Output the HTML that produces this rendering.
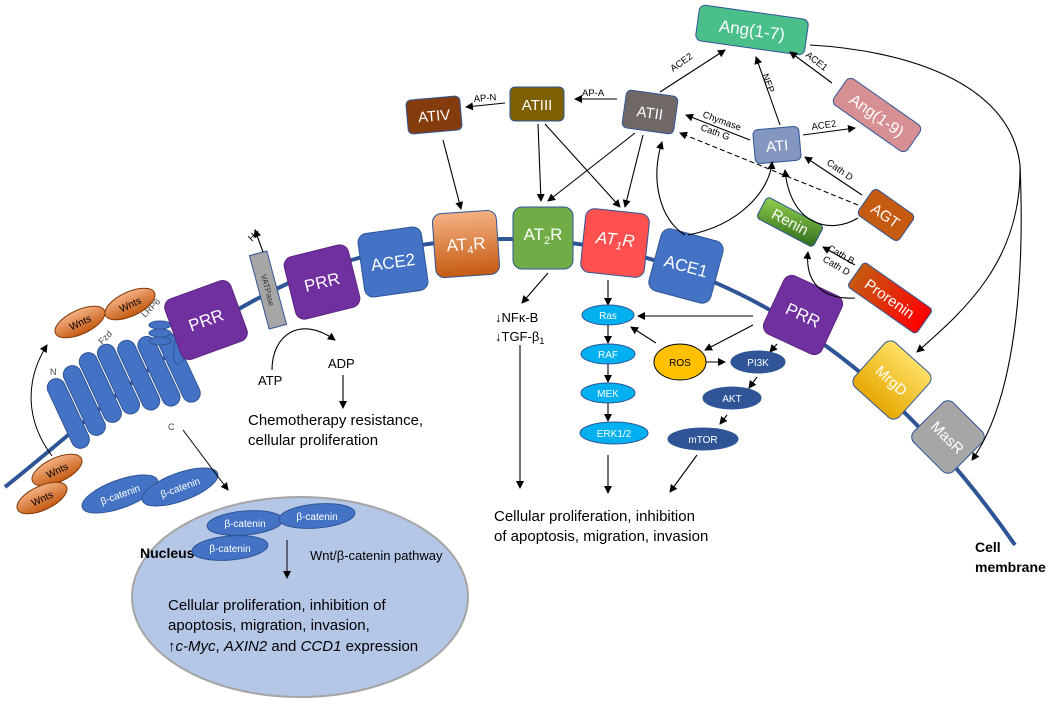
<!DOCTYPE html>
<html><head><meta charset="utf-8"><style>
html,body{margin:0;padding:0;background:#fff}
svg{display:block}
text{font-family:"Liberation Sans",sans-serif}
</style></head><body>
<svg width="1052" height="707" viewBox="0 0 1052 707" xmlns="http://www.w3.org/2000/svg">
<defs>
<marker id="a" markerWidth="8" markerHeight="8" refX="7" refY="4" orient="auto" markerUnits="userSpaceOnUse"><path d="M0,0 L8,4 L0,8 z" fill="#000"/></marker>
<linearGradient id="or" x1="0" y1="0" x2="0" y2="1"><stop offset="0" stop-color="#f4b183"/><stop offset="1" stop-color="#c55a11"/></linearGradient>
<linearGradient id="rn" x1="0" y1="0" x2="1" y2="1"><stop offset="0" stop-color="#92d050"/><stop offset="1" stop-color="#2e6b1a"/></linearGradient>
<linearGradient id="pr" x1="0" y1="0" x2="1" y2="0"><stop offset="0" stop-color="#c55a11"/><stop offset="1" stop-color="#ff0000"/></linearGradient>
<linearGradient id="mg" x1="0" y1="0" x2="0" y2="1"><stop offset="0" stop-color="#ffe066"/><stop offset="1" stop-color="#e6a800"/></linearGradient>
</defs>
<path d="M5,487 C90,420 180,330 300,278 C420,228 560,230 660,262 C780,300 900,380 1015,545" fill="none" stroke="#2f5597" stroke-width="4"/>
<ellipse cx="300" cy="597" rx="168" ry="100" fill="#b4c7e7" stroke="#a5a5a5" stroke-width="2"/>
<text x="140" y="558" font-size="14" font-weight="bold">Nucleus</text>
<text x="310" y="560" font-size="13">Wnt/β-catenin pathway</text>
<text x="168" y="610" font-size="15">Cellular proliferation, inhibition of</text>
<text x="168" y="630" font-size="15">apoptosis, migration, invasion,</text>
<text x="168" y="651" font-size="15">↑<tspan font-style="italic">c-Myc</tspan>, <tspan font-style="italic">AXIN2</tspan> and <tspan font-style="italic">CCD1</tspan> expression</text>
<line x1="287" y1="540" x2="287" y2="578" stroke="#000" marker-end="url(#a)"/>
<g fill="#4472c4" stroke="#2f5597">
<ellipse cx="245" cy="523" rx="38" ry="12" transform="rotate(-5 245 523)"/>
<ellipse cx="317" cy="516" rx="38" ry="12" transform="rotate(-5 317 516)"/>
<ellipse cx="230" cy="548" rx="38" ry="12" transform="rotate(-5 230 548)"/>
<ellipse cx="120" cy="494" rx="40" ry="14" transform="rotate(-20 120 494)"/>
<ellipse cx="180" cy="487" rx="40" ry="14" transform="rotate(-20 180 487)"/>
</g>
<g fill="#fff" font-size="10" text-anchor="middle">
<text x="245" y="527">β-catenin</text><text x="317" y="520">β-catenin</text><text x="230" y="552">β-catenin</text>
<text x="120" y="498" transform="rotate(-20 120 494)">β-catenin</text><text x="180" y="491" transform="rotate(-20 180 487)">β-catenin</text>
</g>
<g fill="url(#or)" stroke="#843c0c">
<ellipse cx="80" cy="322" rx="27" ry="12" transform="rotate(-25 80 322)"/>
<ellipse cx="130" cy="304" rx="27" ry="12" transform="rotate(-25 130 304)"/>
<ellipse cx="57" cy="470" rx="27" ry="12" transform="rotate(-25 57 470)"/>
<ellipse cx="42" cy="498" rx="27" ry="12" transform="rotate(-25 42 498)"/>
</g>
<g font-size="10" text-anchor="middle">
<text x="80" y="326" transform="rotate(-25 80 322)">Wnts</text><text x="130" y="308" transform="rotate(-25 130 304)">Wnts</text>
<text x="57" y="474" transform="rotate(-25 57 470)">Wnts</text><text x="42" y="502" transform="rotate(-25 42 498)">Wnts</text>
</g>
<path d="M52,456 C25,420 25,380 47,345" fill="none" stroke="#000" marker-end="url(#a)"/>
<g transform="rotate(-25 115 400)" fill="#4472c4" stroke="#2f5597">
<rect x="58" y="355" width="18" height="75" rx="9"/><rect x="78" y="350" width="18" height="75" rx="9"/>
<rect x="98" y="345" width="18" height="75" rx="9"/><rect x="118" y="345" width="18" height="75" rx="9"/>
<rect x="138" y="350" width="18" height="75" rx="9"/><rect x="158" y="355" width="18" height="75" rx="9"/>
<rect x="178" y="360" width="18" height="75" rx="9"/>
</g>
<text x="50" y="375" font-size="9" fill="#444">N</text>
<text x="102" y="345" font-size="9" fill="#444" transform="rotate(-45 102 345)">Fzd</text>
<text x="168" y="430" font-size="9" fill="#444">C</text>
<text x="145" y="318" font-size="9" fill="#444" transform="rotate(-45 145 318)">LRP6</text>
<g fill="#4472c4" stroke="#2f5597">
<ellipse cx="184" cy="338" rx="8" ry="27" transform="rotate(15 184 338)"/>
<ellipse cx="160" cy="325" rx="11" ry="4"/><ellipse cx="160" cy="333" rx="11" ry="4"/><ellipse cx="160" cy="341" rx="11" ry="4"/>
</g>
<line x1="183" y1="430" x2="228" y2="490" stroke="#000" marker-end="url(#a)"/>
<g font-size="17" fill="#fff" text-anchor="middle">
<g transform="translate(206,320) rotate(-20)"><rect x="-35" y="-32" width="70" height="64" rx="9" fill="#7030a0" stroke="#5a2480"/><text y="6">PRR</text></g>
<g transform="translate(268,290) rotate(-15)"><rect x="-9" y="-38" width="18" height="76" fill="#a6a6a6" stroke="#2f5597"/><text y="3" font-size="8" fill="#333" transform="rotate(90)">VATPase</text></g>
<g transform="translate(322,282) rotate(-14)"><rect x="-33" y="-32" width="66" height="64" rx="9" fill="#7030a0" stroke="#5a2480"/><text y="6">PRR</text></g>
<g transform="translate(393,262) rotate(-8)"><rect x="-32" y="-32" width="64" height="64" rx="9" fill="#4472c4" stroke="#2f5597"/><text y="6">ACE2</text></g>
<g transform="translate(466,244) rotate(-4)"><rect x="-32" y="-32" width="64" height="64" rx="9" fill="url(#or)" stroke="#2f5597"/><text y="6">AT<tspan font-size="11" dy="4">4</tspan><tspan dy="-4">R</tspan></text></g>
<g transform="translate(543,238)"><rect x="-30" y="-31" width="60" height="62" rx="9" fill="#70ad47" stroke="#2f5597"/><text y="2">AT<tspan font-size="11" dy="4">2</tspan><tspan dy="-4">R</tspan></text></g>
<g transform="translate(615,243) rotate(6)"><rect x="-32" y="-32" width="64" height="64" rx="9" fill="#ff5050" stroke="#2f5597"/><text y="2" font-style="italic">AT<tspan font-size="11" dy="4">1</tspan><tspan dy="-4">R</tspan></text></g>
<g transform="translate(686,266) rotate(15)"><rect x="-32" y="-32" width="64" height="64" rx="9" fill="#4472c4" stroke="#2f5597"/><text y="6">ACE1</text></g>
<g transform="translate(803,315) rotate(25)"><rect x="-32" y="-32" width="64" height="64" rx="9" fill="#7030a0" stroke="#5a2480"/><text y="6">PRR</text></g>
<g transform="translate(892,380) rotate(42)"><rect x="-30" y="-30" width="60" height="60" rx="8" fill="url(#mg)" stroke="#2f5597"/><text y="6" font-size="15">MrgD</text></g>
<g transform="translate(948,437) rotate(45)"><rect x="-28" y="-28" width="56" height="56" rx="8" fill="#a6a6a6" stroke="#2f5597"/><text y="6" font-size="15">MasR</text></g>
</g>
<g font-size="15" fill="#fff" text-anchor="middle">
<g transform="translate(752,30) rotate(8)"><rect x="-55" y="-18" width="110" height="36" rx="6" fill="#4bbf8a" stroke="#2f5597"/><text y="6" font-size="17">Ang(1-7)</text></g>
<g transform="translate(877,115) rotate(35)"><rect x="-45" y="-16" width="90" height="32" rx="6" fill="#d68f93" stroke="#2f5597"/><text y="6" font-size="16">Ang(1-9)</text></g>
<g transform="translate(650,112) rotate(8)"><rect x="-26" y="-19" width="52" height="38" rx="5" fill="#6f6866" stroke="#2f5597"/><text y="6">ATII</text></g>
<g transform="translate(777,145) rotate(-5)"><rect x="-23" y="-17" width="46" height="34" rx="5" fill="#8497c0" stroke="#2f5597"/><text y="6">ATI</text></g>
<g transform="translate(537,104)"><rect x="-27" y="-17" width="54" height="34" rx="5" fill="#7f6000" stroke="#2f5597"/><text y="6">ATIII</text></g>
<g transform="translate(434,115) rotate(-5)"><rect x="-27" y="-17" width="54" height="34" rx="5" fill="#843c0c" stroke="#2f5597"/><text y="6">ATIV</text></g>
<g transform="translate(886,215) rotate(35)"><rect x="-25" y="-16" width="50" height="32" rx="5" fill="#c55a11" stroke="#2f5597"/><text y="6">AGT</text></g>
<g transform="translate(790,222) rotate(28)"><rect x="-32" y="-12" width="64" height="24" rx="4" fill="url(#rn)" stroke="#2f5597"/><text y="5">Renin</text></g>
<g transform="translate(890,298) rotate(35)"><rect x="-42" y="-15" width="84" height="30" rx="4" fill="url(#pr)" stroke="#2f5597"/><text y="6">Prorenin</text></g>
</g>
<g stroke="#000" fill="none" stroke-width="1.1">
<line x1="660" y1="92" x2="725" y2="50" marker-end="url(#a)"/>
<line x1="780" y1="125" x2="756" y2="57" marker-end="url(#a)"/>
<line x1="832" y1="83" x2="790" y2="52" marker-end="url(#a)"/>
<line x1="750" y1="140" x2="686" y2="115" marker-end="url(#a)"/>
<line x1="858" y1="205" x2="680" y2="133" stroke-dasharray="5,3" marker-end="url(#a)"/>
<line x1="803" y1="135" x2="855" y2="128" marker-end="url(#a)"/>
<line x1="862" y1="195" x2="805" y2="157" marker-end="url(#a)"/>
<line x1="617" y1="99" x2="575" y2="99" marker-end="url(#a)"/>
<line x1="505" y1="103" x2="466" y2="107" marker-end="url(#a)"/>
<line x1="443" y1="140" x2="461" y2="209" marker-end="url(#a)"/>
<line x1="538" y1="124" x2="541" y2="201" marker-end="url(#a)"/>
<line x1="545" y1="124" x2="620" y2="207" marker-end="url(#a)"/>
<line x1="635" y1="133" x2="548" y2="201" marker-end="url(#a)"/>
<line x1="643" y1="135" x2="625" y2="207" marker-end="url(#a)"/>
<path d="M685,235 C660,220 650,180 662,142" marker-end="url(#a)"/>
<path d="M688,235 C740,225 770,190 772,162" marker-end="url(#a)"/>
<path d="M858,218 C830,235 790,225 785,170" marker-end="url(#a)"/>
<line x1="855" y1="265" x2="823" y2="247" marker-end="url(#a)"/>
<path d="M855,298 C820,300 805,280 808,252" marker-end="url(#a)"/>
<path d="M810,45 C900,50 1010,80 1020,165"/>
<path d="M1020,165 C1022,260 965,310 917,352" marker-end="url(#a)"/>
<path d="M1020,165 C1025,280 1015,400 972,460" marker-end="url(#a)"/>
<line x1="263" y1="252" x2="255" y2="230" marker-end="url(#a)"/>
<path d="M272,370 C272,335 300,315 335,340" marker-end="url(#a)"/>
<line x1="343" y1="375" x2="343" y2="408" marker-end="url(#a)"/>
<line x1="548" y1="273" x2="522" y2="303" marker-end="url(#a)"/>
<line x1="520" y1="345" x2="520" y2="488" marker-end="url(#a)"/>
<line x1="608" y1="280" x2="608" y2="305" marker-end="url(#a)"/>
<line x1="608" y1="325" x2="608" y2="343" marker-end="url(#a)"/>
<line x1="608" y1="364" x2="608" y2="382" marker-end="url(#a)"/>
<line x1="608" y1="403" x2="608" y2="421" marker-end="url(#a)"/>
<line x1="608" y1="455" x2="608" y2="493" marker-end="url(#a)"/>
<line x1="753" y1="316" x2="638" y2="316" marker-end="url(#a)"/>
<line x1="656" y1="343" x2="631" y2="327" marker-end="url(#a)"/>
<line x1="753" y1="325" x2="705" y2="350" marker-end="url(#a)"/>
<line x1="705" y1="362" x2="725" y2="362" marker-end="url(#a)"/>
<line x1="777" y1="344" x2="770" y2="352" marker-end="url(#a)"/>
<line x1="757" y1="377" x2="749" y2="388" marker-end="url(#a)"/>
<line x1="727" y1="415" x2="720" y2="424" marker-end="url(#a)"/>
<line x1="697" y1="455" x2="670" y2="492" marker-end="url(#a)"/>
</g>
<g font-size="10" text-anchor="middle">
<ellipse cx="608" cy="315" rx="26" ry="10" fill="#00b0f0" stroke="#2f5597"/><text x="608" y="319" fill="#fff">Ras</text>
<ellipse cx="608" cy="354" rx="27" ry="10" fill="#00b0f0" stroke="#2f5597"/><text x="608" y="358" fill="#fff">RAF</text>
<ellipse cx="608" cy="393" rx="27" ry="10" fill="#00b0f0" stroke="#2f5597"/><text x="608" y="397" fill="#fff">MEK</text>
<ellipse cx="614" cy="433" rx="34" ry="11" fill="#00b0f0" stroke="#2f5597"/><text x="614" y="437" fill="#fff">ERK1/2</text>
<ellipse cx="680" cy="362" rx="26" ry="18" fill="#ffc000" stroke="#000"/><text x="680" y="366">ROS</text>
<ellipse cx="758" cy="362" rx="27" ry="11" fill="#2f5597" stroke="#2f5597"/><text x="758" y="366" fill="#fff">PI3K</text>
<ellipse cx="732" cy="398" rx="29" ry="11" fill="#2f5597" stroke="#2f5597"/><text x="732" y="402" fill="#fff">AKT</text>
<ellipse cx="703" cy="439" rx="35" ry="11" fill="#2f5597" stroke="#2f5597"/><text x="703" y="443" fill="#fff">mTOR</text>
</g>
<g font-size="9.5">
<text x="673" y="72" transform="rotate(-35 673 72)">ACE2</text>
<text x="762" y="75" transform="rotate(70 762 75)">NEP</text>
<text x="805" y="56" transform="rotate(38 805 56)">ACE1</text>
<text x="702" y="117" transform="rotate(20 702 117)">Chymase</text>
<text x="700" y="130" transform="rotate(20 700 130)">Cath G</text>
<text x="812" y="130" transform="rotate(-8 812 130)">ACE2</text>
<text x="826" y="164" transform="rotate(35 826 164)">Cath D</text>
<text x="582" y="96">AP-A</text>
<text x="474" y="102" transform="rotate(-5 474 102)">AP-N</text>
<text x="827" y="250" transform="rotate(30 827 250)">Cath B</text>
<text x="822" y="261" transform="rotate(30 822 261)">Cath D</text>
</g>
<text x="252" y="242" font-size="10" transform="rotate(-45 252 242)">H+</text>
<g font-size="13">
<text x="258" y="385">ATP</text><text x="328" y="368">ADP</text>
<text x="495" y="322">↓NFκ-B</text><text x="495" y="341">↓TGF-β<tspan font-size="9" dy="3">1</tspan></text>
</g>
<g font-size="15">
<text x="248" y="425">Chemotherapy resistance,</text>
<text x="248" y="445">cellular proliferation</text>
<text x="494" y="521">Cellular proliferation, inhibition</text>
<text x="494" y="541">of apoptosis, migration, invasion</text>
</g>
<text x="975" y="552" font-size="14" font-weight="bold">Cell</text>
<text x="975" y="572" font-size="14" font-weight="bold">membrane</text>
</svg>
</body></html>
